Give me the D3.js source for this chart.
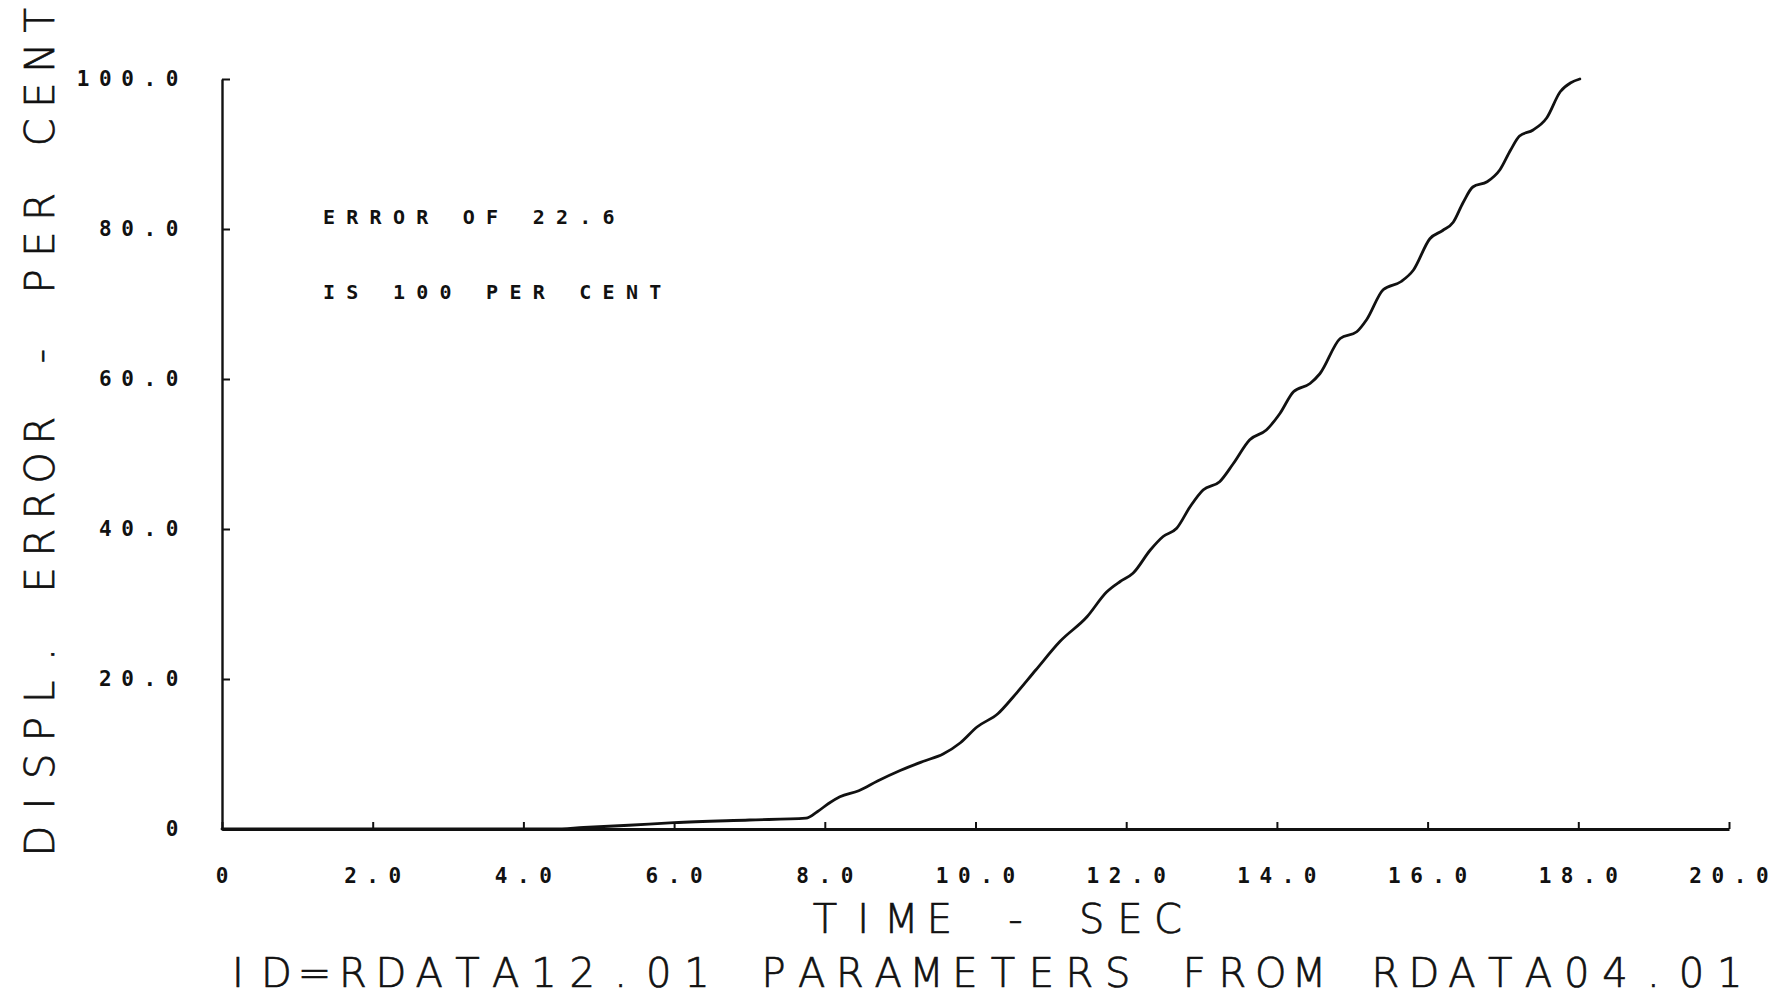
<!DOCTYPE html>
<html>
<head>
<meta charset="utf-8">
<script src="https://cdn.jsdelivr.net/npm/d3@7"></script>
<style>
  html, body { margin: 0; padding: 0; background: #fff; }
  svg { display: block; background: #fff; }
  .tick-label { font-family: "DejaVu Sans Mono", monospace; font-weight: bold; font-size: 21px; fill: #111; }
  .note { font-family: "DejaVu Sans Mono", monospace; font-weight: bold; font-size: 20px; fill: #111; }
  .title { font-family: "DejaVu Sans", sans-serif; font-weight: 200; font-size: 40px; fill: #111; stroke: #111; stroke-width: 0.7px; }
</style>
</head>
<body>
<svg id="chart" width="1779" height="997"></svg>
<script>
// Time axis (seconds) and displacement error (per cent of 22.6)
const timeSec = [
  0, 4.4, 4.8, 5.4, 6.0, 7.0, 7.75, 7.9, 8.05, 8.2, 8.45, 8.7, 9.0, 9.3, 9.57, 9.8,
  10.02, 10.3, 10.5, 10.8, 11.12, 11.48, 11.74, 11.92, 12.09, 12.32, 12.49, 12.67,
  12.85, 13.02, 13.24, 13.42, 13.64, 13.86, 14.04, 14.22, 14.44, 14.57, 14.84, 15.06,
  15.19, 15.41, 15.65, 15.81, 16.03, 16.2, 16.34, 16.47, 16.6, 16.79, 16.96, 17.1,
  17.22, 17.4, 17.58, 17.76, 17.9, 18.02
];
const errorPct = [
  0, 0, 0.2, 0.5, 0.85, 1.2, 1.45, 2.3, 3.4, 4.3, 5.1, 6.4, 7.8, 9.0, 10.0, 11.5,
  13.6, 15.4, 17.6, 21.2, 25.0, 28.3, 31.6, 33.0, 34.1, 37.2, 39.0, 40.1,
  43.0, 45.2, 46.3, 48.7, 51.9, 53.2, 55.4, 58.3, 59.4, 60.7, 65.4, 66.3,
  67.9, 71.9, 73.0, 74.5, 78.7, 79.8, 80.9, 83.5, 85.6, 86.3, 87.9, 90.5,
  92.4, 93.2, 94.8, 98.3, 99.5, 100
];

const xTickValues = [0, 2, 4, 6, 8, 10, 12, 14, 16, 18, 20];
const xTickLabels = ["0", "2.0", "4.0", "6.0", "8.0", "10.0", "12.0", "14.0", "16.0", "18.0", "20.0"];
const yTickValues = [0, 20, 40, 60, 80, 100];
const yTickLabels = ["0", "20.0", "40.0", "60.0", "80.0", "100.0"];

const xTitle = "TIME - SEC";
const yTitle = "DISPL. ERROR - PER CENT";
const footer = "ID=RDATA12.01 PARAMETERS FROM RDATA04.01";
const noteLines = ["ERROR OF 22.6", "IS 100 PER CENT"];

const svg = d3.select("#chart");
const x = d3.scaleLinear().domain([0, 20]).range([222, 1729]);
const y = d3.scaleLinear().domain([0, 100]).range([829, 79]);

// Plotter-style lettering: every character centred in a fixed-pitch cell
function monoText(parent, str, x0, yc, pitch, cls) {
  const xs = Array.from(str).map((c, i) => (x0 + i * pitch).toFixed(1));
  return parent.append("text")
    .attr("class", cls)
    .attr("x", xs.join(" "))
    .attr("y", yc)
    .attr("text-anchor", "middle")
    .attr("dominant-baseline", "central")
    .attr("xml:space", "preserve")
    .text(str);
}

// Axes with inward ticks
const xAxis = d3.axisBottom(x).tickValues(xTickValues).tickSize(-7).tickSizeOuter(0).tickFormat("");
const yAxis = d3.axisLeft(y).tickValues(yTickValues).tickSize(-8).tickSizeOuter(0).tickFormat("");

const gx = svg.append("g").attr("transform", `translate(0,${y(0)})`).call(xAxis);
const gy = svg.append("g").attr("transform", `translate(${x(0)},0)`).call(yAxis);
gx.select(".domain").attr("stroke", "#111").attr("stroke-width", 3);
gy.select(".domain").attr("stroke", "#111").attr("stroke-width", 2.4);
svg.selectAll(".tick line").attr("stroke", "#111").attr("stroke-width", 2);

// Tick labels
const pitchTick = 22.2;
xTickValues.forEach((v, i) => {
  const s = xTickLabels[i];
  const n = Array.from(s).length;
  monoText(svg, s, x(v) - (n - 1) / 2 * pitchTick, 876, pitchTick, "tick-label");
});
yTickValues.forEach((v, i) => {
  const s = yTickLabels[i];
  const n = Array.from(s).length;
  monoText(svg, s, 172 - (n - 1) * pitchTick, y(v), pitchTick, "tick-label");
});

// Annotation
monoText(svg, noteLines[0], 329, 217, 23.3, "note");
monoText(svg, noteLines[1], 329, 292, 23.3, "note");

// Titles
monoText(svg, xTitle, 825, 919, 38.1, "title");
monoText(svg, footer, 238, 973, 38.25, "title");
const gyTitle = svg.append("g").attr("transform", "translate(40,0) rotate(-90)");
monoText(gyTitle, yTitle, -841, 0, 37.3, "title");

// Error curve
const pts = timeSec.map((t, i) => [t, errorPct[i]]);
const line = d3.line().x(d => x(d[0])).y(d => y(d[1])).curve(d3.curveMonotoneX);
svg.append("path")
  .datum(pts)
  .attr("fill", "none")
  .attr("stroke", "#111")
  .attr("stroke-width", 2.8)
  .attr("stroke-linejoin", "round")
  .attr("stroke-linecap", "round")
  .attr("d", line);
</script>
</body>
</html>
